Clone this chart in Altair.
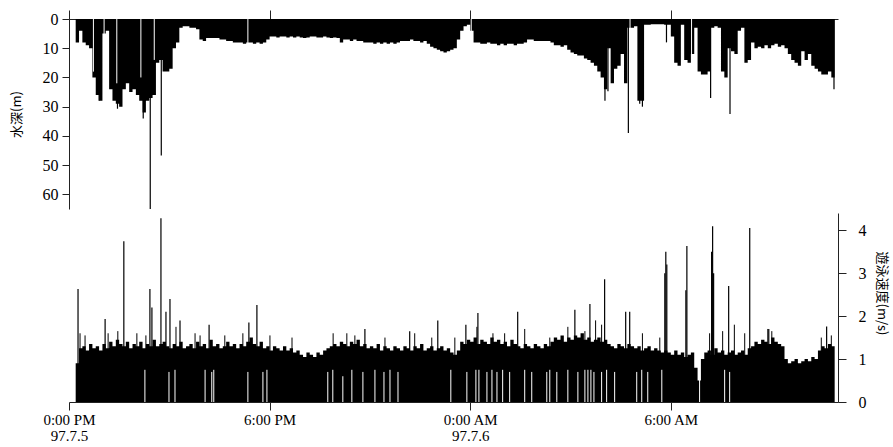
import json
import altair as alt
import pandas as pd

# ---- data (hours after 12:00 PM, 1997-07-05) ----
T0 = 0.2
STEP = 0.1

depth = [
    8, 4, 8, 9, 10, 20, 26, 28,
    5, 4, 24, 28, 29, 30, 24, 22, 25, 24,
    26, 28, 32, 28, 27, 26, 15, 14, 18, 18,
    17, 10, 8, 3, 2.5, 2.5, 3, 3, 3.5, 7,
    7.5, 6.5, 6.5, 6.5, 6.5, 7, 7, 7.5, 7.5, 8,
    8, 8, 8.5, 8, 8, 8.5, 8, 8.5, 8, 7,
    6, 6, 6.3, 6, 6, 6.3, 6, 6.3, 6, 6.3,
    6.5, 6.3, 6, 6, 6.3, 6.3, 6, 6.3, 6.5, 6.3,
    6.5, 8, 7, 7, 7.5, 7, 7.5, 7.5, 8, 8,
    8, 8.5, 8, 8.5, 8, 8.5, 8, 8.5, 8, 7.5,
    7.5, 7.5, 7, 7.5, 7.5, 8, 7.5, 8.5, 9.5, 10,
    10.5, 11, 11.5, 11, 10.5, 10, 7, 4, 2.5, 2,
    4, 8, 8, 8.5, 8.5, 8, 8.5, 8.5, 9, 8.5,
    9, 8.5, 8.5, 9, 8.5, 8.5, 8, 7, 7, 7.5,
    7.5, 7.5, 7.5, 7.5, 8, 9, 9, 9.5, 9, 10.5,
    11.5, 12, 12.5, 12.5, 13.5, 14, 15, 16, 18, 20,
    24, 10, 22, 17, 16, 12, 22, 3, 3, 2.5,
    28, 28, 2, 2, 1.8, 1.8, 1.8, 1.8, 2, 2,
    6, 15, 16, 2, 14, 15, 12, 3, 18, 19,
    19, 18, 3, 2.5, 3, 18, 20, 10, 11, 12,
    4, 3, 15, 14, 8, 10, 9.5, 10, 9, 10,
    9, 8.5, 9.5, 9, 10, 12, 14, 15, 16, 11,
    14, 12, 16, 17, 18, 19, 19, 18, 20, 19,
]

speed = [
    0.9, 1.25, 1.3, 1.2, 1.35, 1.25, 1.3, 1.2,
    1.35, 1.25, 1.4, 1.3, 1.45, 1.35, 1.3, 1.4, 1.25, 1.35,
    1.3, 1.4, 1.25, 1.35, 1.3, 1.45, 1.3, 1.35, 1.4, 1.3,
    1.25, 1.35, 1.3, 1.4, 1.25, 1.3, 1.35, 1.25, 1.4, 1.3,
    1.35, 1.25, 1.45, 1.3, 1.35, 1.25, 1.3, 1.4, 1.3, 1.35,
    1.25, 1.35, 1.3, 1.4, 1.5, 1.35, 1.3, 1.4, 1.25, 1.3,
    1.2, 1.3, 1.25, 1.2, 1.3, 1.2, 1.25, 1.15, 1.2, 1.1,
    1.05, 1.15, 1.1, 1.05, 1.15, 1.1, 1.2, 1.25, 1.3, 1.35,
    1.3, 1.4, 1.35, 1.3, 1.4, 1.35, 1.45, 1.3, 1.35, 1.25,
    1.3, 1.25, 1.35, 1.2, 1.3, 1.25, 1.2, 1.3, 1.25, 1.2,
    1.3, 1.25, 1.2, 1.3, 1.25, 1.35, 1.2, 1.25, 1.3, 1.2,
    1.25, 1.3, 1.2, 1.25, 1.15, 1.1, 1.2, 1.4, 1.35, 1.45,
    1.4, 1.5, 1.35, 1.45, 1.4, 1.35, 1.5, 1.4, 1.45, 1.35,
    1.4, 1.3, 1.45, 1.35, 1.3, 1.25, 1.35, 1.3, 1.25, 1.35,
    1.3, 1.25, 1.35, 1.3, 1.4, 1.5, 1.45, 1.55, 1.4, 1.5,
    1.45, 1.55, 1.5, 1.6, 1.45, 1.5, 1.4, 1.45, 1.5, 1.4,
    1.45, 1.35, 1.3, 1.25, 1.35, 1.3, 1.25, 1.35, 1.3, 1.25,
    1.3, 1.2, 1.25, 1.3, 1.2, 1.25, 1.2, 1.15, 1.2, 1.15,
    1.1, 1.2, 1.1, 1.15, 1.05, 1.1, 1.15, 0.8, 0.5, 1.0,
    1.15, 1.2, 1.1, 1.25, 1.15, 1.2, 1.1, 1.15, 1.2, 1.1,
    1.15, 1.2, 1.1, 1.25, 1.3, 1.4, 1.35, 1.45, 1.4, 1.35,
    1.5, 1.4, 1.35, 1.3, 1.0, 0.9, 0.95, 1.0, 0.9, 0.95,
    1.0, 0.95, 1.05, 1.0, 1.2, 1.3, 1.25, 1.35, 1.3, 1.35,
]

depth_spike_t = [0.9, 1.45, 2.22, 2.43, 2.76, 16.03, 16.12, 16.73, 17.07, 17.15, 17.87, 19.19, 19.77, 22.88]
depth_spike_v = [28, 30.7, 34, 65, 46.7, 28, 24.7, 39, 29, 30, 8, 27, 32.5, 24]

depth_gap_t = [0.73, 1.05, 1.43, 2.15, 2.55, 5.35, 12.03, 16.78, 18.62]
depth_gap_v = [18, 20, 22, 20, 14, 8.5, 7, 20, 12]

speed_spike_t = [0.27, 1.08, 1.64, 2.42, 2.48, 2.75, 2.9, 3.02, 3.32, 4.19, 5.38, 5.62,
                 8.85, 10.19, 11.03, 11.87, 12.23, 13.42, 15.13, 15.58, 16.02, 16.65,
                 16.77, 17.82, 17.85, 17.88, 18.45, 18.48, 19.22, 19.25, 19.28, 19.73,
                 20.36, 20.93, 22.66]
speed_spike_v = [2.63, 1.93, 3.74, 2.63, 2.2, 4.28, 2.1, 2.4, 1.9, 1.8, 1.85, 2.26,
                 1.7, 1.65, 1.9, 1.8, 2.07, 2.1, 2.15, 2.28, 2.86, 2.1,
                 2.1, 3.0, 3.5, 3.2, 2.6, 3.63, 3.5, 4.09, 3.0, 2.7,
                 4.05, 1.7, 1.76]

speed_minor_t = [0.33, 0.48, 1.17, 1.46, 2.03, 2.3, 3.2, 3.77, 3.92, 4.66, 5.2, 6.01,
                 6.67, 7.9, 8.31, 8.55, 9.45, 10.34, 10.85, 11.54, 12.2, 12.68, 13.03,
                 13.63, 14.38, 14.92, 15.43, 15.75, 15.93, 17.15, 17.67, 19.16, 19.55,
                 19.9, 20.21, 20.9, 21.02, 22.5, 22.8]
speed_minor_v = [1.6, 1.55, 1.6, 1.65, 1.6, 1.55, 1.75, 1.6, 1.55, 1.55, 1.6, 1.55,
                 1.5, 1.6, 1.6, 1.55, 1.5, 1.6, 1.5, 1.5, 1.75, 1.6, 1.6,
                 1.7, 1.5, 1.75, 1.65, 1.9, 1.8, 1.6, 1.5, 1.6, 1.65,
                 1.8, 1.6, 1.7, 1.65, 1.5, 1.55]

speed_gap_t = [2.27, 2.99, 3.17, 4.07, 4.27, 4.33, 5.35, 5.80, 5.92, 7.74, 7.89, 8.19,
               8.46, 8.79, 9.15, 9.42, 9.60, 9.84, 11.42, 11.90, 12.17, 12.26, 12.50,
               12.65, 12.80, 12.97, 13.18, 13.63, 13.84, 14.29, 14.38, 14.59, 14.92,
               15.22, 15.43, 15.52, 15.61, 15.70, 15.93, 16.08, 16.32, 16.98, 17.13,
               17.31, 17.73, 18.86, 19.61, 19.76]
speed_gap_v = [0.75, 0.7, 0.75, 0.75, 0.7, 0.75, 0.7, 0.7, 0.75, 0.7, 0.75, 0.6,
               0.75, 0.7, 0.75, 0.7, 0.75, 0.7, 0.75, 0.7, 0.75, 0.75, 0.7,
               0.75, 0.7, 0.75, 0.7, 0.75, 0.7, 0.7, 0.75, 0.7, 0.75,
               0.7, 0.75, 0.75, 0.75, 0.7, 0.7, 0.75, 0.7, 0.7, 0.75,
               0.7, 0.75, 0.7, 0.75, 0.7]

tick_hours = [0, 6, 12, 18]
tick_line1 = ["0:00 PM", "6:00 PM", "0:00 AM", "6:00 AM"]
tick_line2 = ["97.7.5", "", "97.7.6", ""]

depth_ticks = [0, 10, 20, 30, 40, 50, 60]
speed_ticks = [0, 1, 2, 3, 4]

# ---- tables ----
times = [round(T0 + STEP * i, 2) for i in range(len(depth))]
df_depth = pd.DataFrame({"t": times, "v": depth})
df_speed = pd.DataFrame({"t": times, "v": speed})
df_dspike = pd.DataFrame({"t": depth_spike_t, "v": depth_spike_v, "z": 0})
df_dgap = pd.DataFrame({"t": depth_gap_t, "v": depth_gap_v, "z": 0})
df_sspike = pd.DataFrame({"t": speed_spike_t, "v": speed_spike_v, "z": 0})
df_sminor = pd.DataFrame({"t": speed_minor_t, "v": speed_minor_v, "z": 0})
df_sgap = pd.DataFrame({"t": speed_gap_t, "v": speed_gap_v, "z": 0})

parts = []
for h, a, b in zip(tick_hours, tick_line1, tick_line2):
    lab = json.dumps([a, b]) if b else json.dumps(a)
    parts.append(f"datum.value == {h} ? {lab} : ")
label_expr = "".join(parts) + "''"

SERIF = "Liberation Serif"
CJK = "Noto Sans CJK JP"
AX = "#222222"

xs = alt.Scale(domain=[0, 23], nice=False, zero=False)

top_x_axis = alt.Axis(orient="top", values=tick_hours, labels=False, title=None,
                      tickSize=9, grid=False, domainColor=AX, tickColor=AX)
bot_x_axis = alt.Axis(orient="bottom", values=tick_hours, labelExpr=label_expr, title=None,
                      tickSize=8, labelPadding=2, grid=False, domainColor=AX, tickColor=AX,
                      labelFont=SERIF, labelFontSize=15, labelColor="black",
                      labelLineHeight=16, labelFlush=False)

ys_d = alt.Scale(domain=[0, 65], reverse=True, nice=False, zero=True)
y_axis_d = alt.Axis(values=depth_ticks, title="水深(m)", tickSize=7, labelPadding=4,
                    grid=False, domainColor=AX, tickColor=AX, labelFont=SERIF,
                    labelFontSize=16, labelColor="black", titleFont=CJK, titleFontSize=13,
                    titleFontWeight="normal", titleColor="black", titlePadding=19)

ys_s = alt.Scale(domain=[0, 4.4], nice=False, zero=True)
y_axis_s = alt.Axis(orient="right", values=speed_ticks, title="遊泳速度(m/s)", tickSize=8,
                    labelPadding=12, grid=False, domainColor=AX, tickColor=AX,
                    labelFont=SERIF, labelFontSize=16, labelColor="black",
                    titleFont=CJK, titleFontSize=13, titleFontWeight="normal",
                    titleColor="black", titleAngle=90, titlePadding=8, titleY=80)

xd = alt.X("t:Q", scale=xs, axis=top_x_axis)
yd = alt.Y("v:Q", scale=ys_d, axis=y_axis_d)

top_area = alt.Chart(df_depth).mark_area(interpolate="step-after", color="black").encode(x=xd, y=yd)
top_spk = alt.Chart(df_dspike).mark_rule(color="black", strokeWidth=1.2).encode(x=xd, y=yd, y2="z:Q")
top_gap = alt.Chart(df_dgap).mark_rule(color="white", strokeWidth=1).encode(x=xd, y=yd, y2="z:Q")
top = alt.layer(top_area, top_spk, top_gap).properties(width=769, height=190)

xb = alt.X("t:Q", scale=xs, axis=bot_x_axis)
yb = alt.Y("v:Q", scale=ys_s, axis=y_axis_s)

bot_area = alt.Chart(df_speed).mark_area(interpolate="step-after", color="black").encode(x=xb, y=yb)
bot_spk = alt.Chart(df_sspike).mark_rule(color="black", strokeWidth=1.2).encode(x=xb, y=yb, y2="z:Q")
bot_min = alt.Chart(df_sminor).mark_rule(color="black", strokeWidth=1).encode(x=xb, y=yb, y2="z:Q")
bot_gap = alt.Chart(df_sgap).mark_rule(color="white", strokeWidth=1).encode(x=xb, y=yb, y2="z:Q")
bottom = alt.layer(bot_area, bot_spk, bot_min, bot_gap).properties(width=769, height=189)

chart = alt.vconcat(top, bottom, spacing=4, bounds="flush").properties(
    padding={"left": 10, "top": 9, "right": 5, "bottom": 5},
    background="white",
).configure_view(stroke=None)

chart.save("out.html", embed_options={"renderer": "svg", "actions": False})
